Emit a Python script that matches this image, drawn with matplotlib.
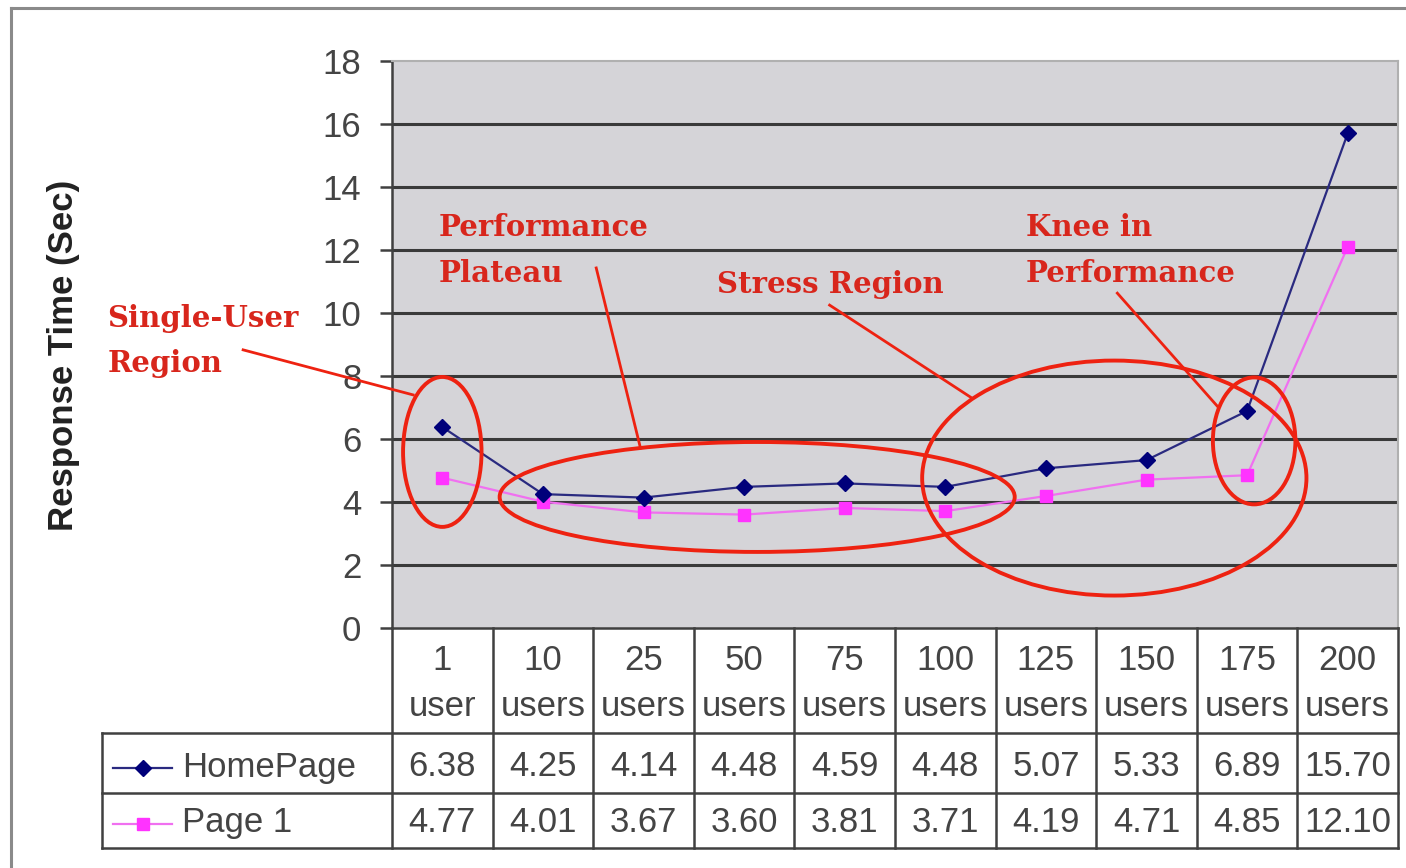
import matplotlib
matplotlib.use('Agg')
import matplotlib.pyplot as plt
from matplotlib.patches import Ellipse
from matplotlib.lines import Line2D

categories = ['1\nuser', '10\nusers', '25\nusers', '50\nusers', '75\nusers',
              '100\nusers', '125\nusers', '150\nusers', '175\nusers', '200\nusers']
homepage = [6.38, 4.25, 4.14, 4.48, 4.59, 4.48, 5.07, 5.33, 6.89, 15.70]
page1 = [4.77, 4.01, 3.67, 3.60, 3.81, 3.71, 4.19, 4.71, 4.85, 12.10]
series_names = ['HomePage', 'Page 1']
yticks = [0, 2, 4, 6, 8, 10, 12, 14, 16, 18]

W, H = 1406, 868
plt.rcParams['font.family'] = ['Liberation Sans', 'DejaVu Sans']

fig = plt.figure(figsize=(W / 100, H / 100), dpi=100)
fig.patch.set_facecolor('white')

# outer frame (only top and left edges are visible)
fig.add_artist(Line2D([11 / W, 11 / W], [0, 1 - 8 / H], color='#8a8a8a', lw=2.2))
fig.add_artist(Line2D([11 / W, 1], [1 - 8 / H, 1 - 8 / H], color='#8a8a8a', lw=2.2))

# chart area
ax = fig.add_axes([392 / W, 1 - 628 / H, 1006 / W, 567 / H])
n = len(categories)
ax.set_xlim(-0.5, n - 0.5)
ax.set_ylim(0, 18)
ax.set_facecolor('#d5d4d8')
ax.set_yticks(yticks)
ax.set_xticks([])
for y in yticks[1:-1]:
    ax.axhline(y, color='#3a3a3a', lw=2.2, zorder=1)
for s in ['top', 'right']:
    ax.spines[s].set_color('#b0b0b0')
    ax.spines[s].set_linewidth(1.5)
ax.spines['left'].set_color('#404040')
ax.spines['left'].set_linewidth(1.8)
ax.spines['bottom'].set_color('#404040')
ax.spines['bottom'].set_linewidth(1.8)
ax.tick_params(axis='y', length=9, width=1.8, color='#404040', labelsize=25,
               labelcolor='#444444', pad=13)

x = list(range(n))
ax.plot(x, homepage, color='#2a2a80', lw=1.6, marker='D', ms=8.5,
        mfc='#00007a', mec='#00007a', zorder=4, clip_on=False)
ax.plot(x, page1, color='#f070f0', lw=1.6, marker='s', ms=9,
        mfc='#ff33ff', mec='#ff33ff', zorder=3, clip_on=False)

fig.text(64 / W, 1 - 355 / H, 'Response Time (Sec)', rotation=90, fontsize=25,
         fontweight='bold', color='#222222', ha='center', va='center')

# region annotations
red = '#ee2211'
tred = '#d8261c'
afont = dict(family='DejaVu Serif', fontweight='bold', fontsize=21, color=tred,
             va='top', ha='left', linespacing=1.72, clip_on=False, zorder=6)
ax.text(-3.33, 10.3, 'Single-User\nRegion', **afont)
ax.text(-0.04, 13.17, 'Performance\nPlateau', **afont)
ax.text(2.73, 11.35, 'Stress Region', **afont)
ax.text(5.80, 13.17, 'Knee in\nPerformance', **afont)

ellipses = [((0.0, 5.59), 0.78, 4.76),
            ((3.13, 4.16), 5.12, 3.49),
            ((6.68, 4.76), 3.82, 7.46),
            ((8.07, 5.94), 0.82, 4.03)]
for c, w, h in ellipses:
    ax.add_patch(Ellipse(c, w, h, fill=False, ec=red, lw=2.8, zorder=5, clip_on=False))

pointers = [((-1.98, 8.83), (-0.29, 7.40)),
            ((1.53, 11.43), (1.97, 5.71)),
            ((3.85, 10.25), (5.25, 7.33)),
            ((6.71, 10.63), (7.71, 7.02))]
for (x0, y0), (x1, y1) in pointers:
    ax.plot([x0, x1], [y0, y1], color=red, lw=2.0, zorder=5, clip_on=False)

# data table under the chart
tab = fig.add_axes([102 / W, 1 - 848 / H, 1296 / W, 220 / H])
tab.set_xlim(n - 0.5 - 1296 / 1006 * n, n - 0.5)
tab.set_ylim(220, 0)
tab.axis('off')
left = tab.get_xlim()[0]
rows = [0, 105, 165, 220]
lc = '#404040'
lk = dict(color=lc, lw=1.8, clip_on=False, solid_capstyle='projecting')
for i in range(n + 1):
    tab.plot([i - 0.5, i - 0.5], [rows[0], rows[-1]], **lk)
for r in rows[1:]:
    tab.plot([left, n - 0.5], [r, r], **lk)
tab.plot([left, left], [rows[1], rows[-1]], **lk)

tfont = dict(fontsize=25, color='#444444', ha='center', va='center')
for i, lab in enumerate(categories):
    top, bottom = lab.split('\n')
    tab.text(i, 32, top, **tfont)
    tab.text(i, 79, bottom, **tfont)
row_mid = [(rows[1] + rows[2]) / 2 + 4, (rows[2] + rows[3]) / 2 + 2]
for row, vals in zip(row_mid, [homepage, page1]):
    for i, v in enumerate(vals):
        tab.text(i, row, f'{v:.2f}', **tfont)

# legend keys in the row headers
key_x = [left + 0.11, left + 0.41, left + 0.70]
line_colors = ['#2a2a80', '#f070f0']
markers = [dict(marker='D', ms=8.5, mfc='#00007a', mec='#00007a'),
           dict(marker='s', ms=9, mfc='#ff33ff', mec='#ff33ff')]
for row, name, lcol, mk in zip(row_mid, series_names, line_colors, markers):
    tab.plot([key_x[0], key_x[2]], [row + 1, row + 1], color=lcol, lw=1.6, clip_on=False)
    tab.plot([key_x[1]], [row + 1], ls='none', clip_on=False, **mk)
    tab.text(left + 0.80, row, name, fontsize=25, color='#444444', ha='left', va='center')

fig.savefig('out.png', dpi=100)
